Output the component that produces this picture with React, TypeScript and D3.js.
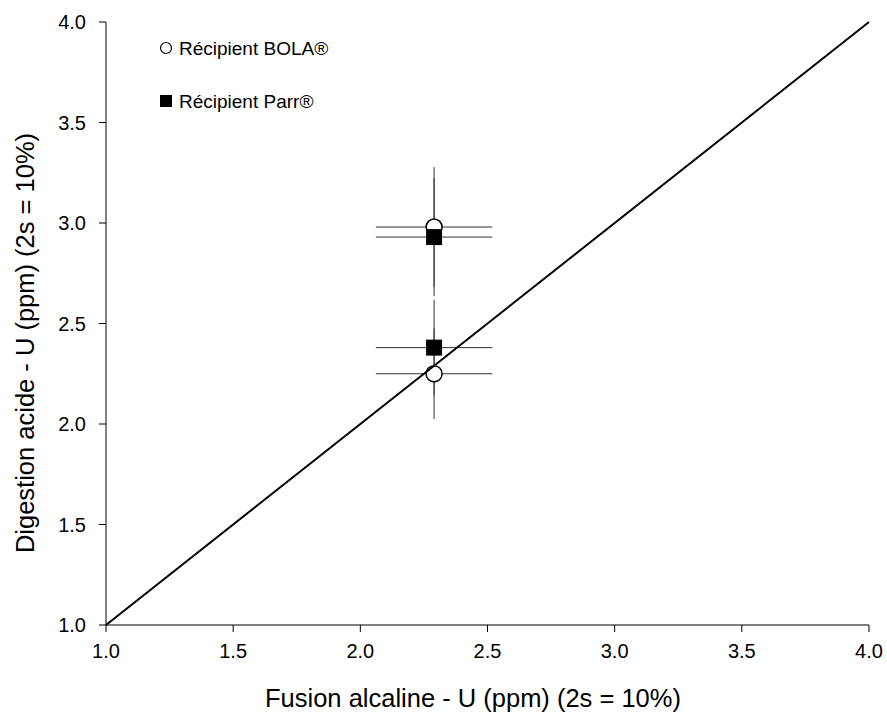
import React from "react";
import * as d3 from "d3";

const xTicks = [1.0, 1.5, 2.0, 2.5, 3.0, 3.5, 4.0];
const yTicks = [1.0, 1.5, 2.0, 2.5, 3.0, 3.5, 4.0];
const bolaX = [2.29, 2.29];
const bolaY = [2.98, 2.25];
const parrX = [2.29, 2.29];
const parrY = [2.93, 2.38];
const errFrac = 0.1;
const diagonal = [1.0, 4.0];

const W = 887;
const H = 715;
const L = 106, R = 869, T = 22, B = 625;
const FONT = "'Liberation Sans', Arial, sans-serif";

export default function App() {
  const x = d3.scaleLinear().domain([1, 4]).range([L, R]);
  const y = d3.scaleLinear().domain([1, 4]).range([B, T]);
  const line = d3.line<number>().x((d) => x(d)).y((d) => y(d));

  const errBars = (xs: number[], ys: number[], key: string) =>
    xs.map((xv, i) => {
      const yv = ys[i];
      return (
        <g key={key + i} stroke="#333" strokeWidth={1}>
          <line x1={x(xv * (1 - errFrac))} x2={x(xv * (1 + errFrac))} y1={y(yv)} y2={y(yv)} />
          <line x1={x(xv)} x2={x(xv)} y1={y(yv * (1 - errFrac))} y2={y(yv * (1 + errFrac))} />
        </g>
      );
    });

  return (
    <svg width={W} height={H} style={{ position: "absolute", left: 0, top: 0, background: "#fff" }} fontFamily={FONT}>
      <rect width={W} height={H} fill="#fff" />
      {/* axes */}
      <line x1={L} x2={L} y1={T} y2={B} stroke="#000" strokeWidth={1} />
      <line x1={L} x2={R} y1={B} y2={B} stroke="#000" strokeWidth={1} />
      {yTicks.map((t) => (
        <g key={"yt" + t}>
          <line x1={L - 7} x2={L} y1={y(t)} y2={y(t)} stroke="#000" />
          <text x={L - 20} y={y(t)} dy="0.35em" textAnchor="end" fontSize={20} fill="#000">
            {d3.format(".1f")(t)}
          </text>
        </g>
      ))}
      {xTicks.map((t) => (
        <g key={"xt" + t}>
          <line x1={x(t)} x2={x(t)} y1={B} y2={B + 7} stroke="#000" />
          <text x={x(t)} y={B + 33} textAnchor="middle" fontSize={20} fill="#000">
            {d3.format(".1f")(t)}
          </text>
        </g>
      ))}
      {/* error bars */}
      {errBars(bolaX, bolaY, "b")}
      {errBars(parrX, parrY, "p")}
      {/* markers */}
      {bolaX.map((xv, i) => (
        <circle key={"bc" + i} cx={x(xv)} cy={y(bolaY[i])} r={8} fill="#fff" stroke="#000" strokeWidth={1.5} />
      ))}
      {parrX.map((xv, i) => (
        <rect key={"pr" + i} x={x(xv) - 8} y={y(parrY[i]) - 8} width={16} height={16} fill="#000" />
      ))}
      {/* 1:1 line */}
      <path d={line(diagonal) || ""} stroke="#000" strokeWidth={2} fill="none" />
      {/* legend */}
      <circle cx={166} cy={48} r={5.5} fill="#fff" stroke="#000" strokeWidth={1.2} />
      <text x={179} y={55} fontSize={19} fill="#000">Récipient BOLA®</text>
      <rect x={160} y={95} width={12} height={12} fill="#000" />
      <text x={179} y={108} fontSize={19} fill="#000">Récipient Parr®</text>
      {/* titles */}
      <text x={473} y={707} textAnchor="middle" fontSize={25.5} fill="#000">
        Fusion alcaline - U (ppm) (2s = 10%)
      </text>
      <text transform={`translate(34,343) rotate(-90)`} textAnchor="middle" fontSize={25.5} fill="#000">
        Digestion acide - U (ppm) (2s = 10%)
      </text>
    </svg>
  );
}
